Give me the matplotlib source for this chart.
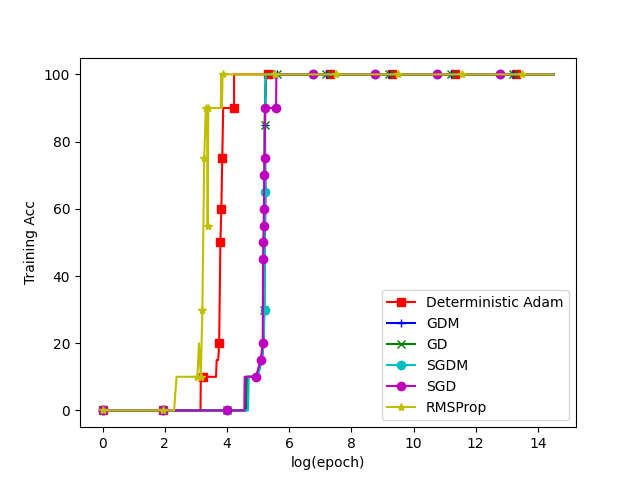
import matplotlib
matplotlib.use("Agg")
import matplotlib.pyplot as plt

# Deterministic Adam
adam_x = [0, 1.95, 3.15, 3.16, 3.24, 3.65, 3.67, 3.72, 3.75, 3.79, 3.82, 3.85, 3.88, 4.23, 4.23,
          5.33, 7.32, 9.31, 11.32, 13.29, 14.5]
adam_y = [0, 0, 0, 10, 10, 10, 15, 15, 20, 50, 60, 75, 90, 90, 100,
          100, 100, 100, 100, 100, 100]
adam_mk = [0, 1, 4, 8, 9, 10, 11, 13, 15, 16, 17, 18, 19]

# GDM
gdm_x = [0, 1.95, 4.0, 4.62, 4.64, 4.97, 5.12, 5.18, 5.24, 5.22, 5.23, 5.26,
         5.6, 7.2, 9.2, 11.2, 13.2, 14.5]
gdm_y = [0, 0, 0, 0, 10, 10, 15, 20, 65, 85, 90, 100,
         100, 100, 100, 100, 100, 100]
gdm_mk = [0, 1, 8, 9, 12, 13, 14, 15, 16]

# GD
gd_x = [0, 1.95, 4.0, 4.6, 4.62, 4.95, 5.1, 5.16, 5.2, 5.21, 5.22, 5.25,
        5.6, 7.2, 9.2, 11.2, 13.2, 14.5]
gd_y = [0, 0, 0, 0, 10, 10, 15, 20, 30, 85, 90, 100,
        100, 100, 100, 100, 100, 100]
gd_mk = [0, 1, 2, 8, 9, 12, 13, 14, 15, 16]

# SGDM
sgdm_x = [0, 1.95, 4.0, 4.68, 4.70, 5.0, 5.12, 5.18, 5.21, 5.22, 5.23, 5.25,
          6.78, 8.77, 10.76, 12.78, 14.5]
sgdm_y = [0, 0, 0, 0, 10, 10, 15, 20, 30, 65, 90, 100,
          100, 100, 100, 100, 100]
sgdm_mk = [0, 1, 2, 8, 9, 12, 13, 14, 15]

# SGD
sgd_x = [0, 1.95, 4.0, 4.56, 4.57, 4.93, 5.09, 5.15, 5.16, 5.17, 5.18, 5.19, 5.2, 5.21,
         5.23, 5.58, 5.59, 6.78, 8.77, 10.76, 12.78, 14.5]
sgd_y = [0, 0, 0, 0, 10, 10, 15, 20, 45, 50, 55, 60, 70, 75,
         90, 90, 100, 100, 100, 100, 100, 100]
sgd_mk = [0, 1, 2, 5, 6, 7, 8, 9, 10, 11, 12, 13, 14, 15, 17, 18, 19, 20]

# RMSProp
rms_x = [0, 1.95, 2.30, 2.38, 3.05, 3.10, 3.16, 3.21, 3.27, 3.32, 3.36, 3.38, 3.40,
         3.80, 3.82, 3.84, 3.86, 3.88, 5.55, 7.5, 9.5, 11.55, 13.5, 14.5]
rms_y = [0, 0, 0, 10, 10, 20, 10, 30, 75, 90, 90, 55, 90,
         90, 100, 90, 100, 100, 100, 100, 100, 100, 100, 100]
rms_mk = [0, 1, 4, 6, 7, 8, 9, 11, 12, 17, 18, 19, 20, 21, 22]

fig, ax = plt.subplots(figsize=(6.4, 4.8), dpi=100)
ax.plot(adam_x, adam_y, color='r', marker='s', markevery=adam_mk, label='Deterministic Adam')
ax.plot(gdm_x, gdm_y, color='b', marker='+', markevery=gdm_mk, label='GDM')
ax.plot(gd_x, gd_y, color='g', marker='x', markevery=gd_mk, label='GD')
ax.plot(sgdm_x, sgdm_y, color='c', marker='o', markevery=sgdm_mk, label='SGDM')
ax.plot(sgd_x, sgd_y, color='m', marker='o', markevery=sgd_mk, label='SGD')
ax.plot(rms_x, rms_y, color='y', marker='*', markevery=rms_mk, label='RMSProp')
ax.set_xlabel('log(epoch)')
ax.set_ylabel('Training Acc')
ax.legend(loc='lower right')
fig.savefig('out.png', dpi=100)
